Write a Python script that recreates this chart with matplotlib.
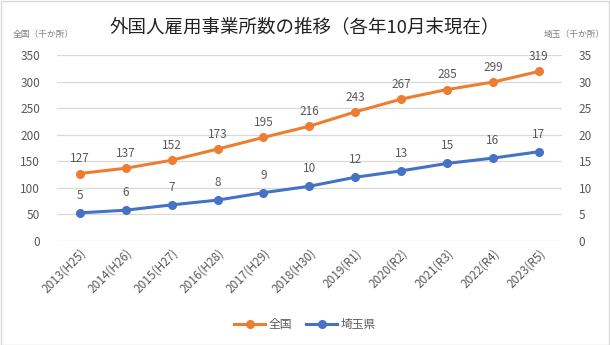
import matplotlib
matplotlib.use("Agg")
import matplotlib.pyplot as plt
from matplotlib.patches import Rectangle

plt.rcParams['font.family'] = ['Noto Sans CJK JP', 'DejaVu Sans']

years = ["2013(H25)", "2014(H26)", "2015(H27)", "2016(H28)", "2017(H29)", "2018(H30)",
         "2019(R1)", "2020(R2)", "2021(R3)", "2022(R4)", "2023(R5)"]
national = [127, 137, 152, 173, 195, 216, 243, 267, 285, 299, 319]
saitama = [5.3, 5.8, 6.8, 7.7, 9.1, 10.3, 12.0, 13.2, 14.6, 15.6, 16.8]
left_ticks = [0, 50, 100, 150, 200, 250, 300, 350]
right_ticks = [0, 5, 10, 15, 20, 25, 30, 35]

title = "外国人雇用事業所数の推移（各年10月末現在）"
left_label = "全国（千か所）"
right_label = "埼玉（千か所）"

orange = "#ED7D31"
blue = "#4472C4"
txt = "#595959"

fig = plt.figure(figsize=(6.1, 3.45), dpi=100)
fig.patches.append(Rectangle((0.001, 0.001), 0.998, 0.996, transform=fig.transFigure,
                             fill=False, edgecolor="#D9D9D9", linewidth=1))
ax = fig.add_axes([0.0934, 0.3014, 0.8276, 0.5392])
ax2 = ax.twinx()

x = list(range(len(years)))
ax.set_xlim(-0.5, len(years) - 0.5)
ax.set_ylim(0, 350)
ax2.set_ylim(0, 35)
ax.set_yticks(left_ticks)
ax2.set_yticks(right_ticks)
ax.grid(axis='y', color="#D9D9D9", linewidth=0.9)
ax.set_axisbelow(True)
for a in (ax, ax2):
    for s in a.spines.values():
        s.set_visible(False)
    a.tick_params(length=0, labelsize=8.5, colors=txt)
ax.tick_params(axis='y', pad=12)
ax2.tick_params(axis='y', pad=12)

ax.set_xticks(x)
ax.set_xticklabels(years, rotation=45, ha='right', rotation_mode='anchor', fontsize=8.5, color=txt)
ax.tick_params(axis='x', pad=4)

l1, = ax.plot(x, national, color=orange, lw=2.2, marker='o', ms=5.5, label="全国", zorder=3)
l2, = ax2.plot(x, saitama, color=blue, lw=2.2, marker='o', ms=5.5, label="埼玉県", zorder=3)

for xi, v in zip(x, national):
    ax.annotate(f"{v:.0f}", (xi, v), xytext=(0, 6), textcoords='offset points',
                ha='center', va='bottom', fontsize=8.5, color=txt)
for xi, v in zip(x, saitama):
    ax2.annotate(f"{v:.0f}", (xi, v), xytext=(0, 8), textcoords='offset points',
                 ha='center', va='bottom', fontsize=8.5, color=txt)

fig.text(0.5, 0.92, title, ha='center', va='center', fontsize=13.3, color="#222222")
fig.text(0.02, 0.9, left_label, ha='left', va='center', fontsize=6.3, color="#7f7f7f")
fig.text(0.992, 0.9, right_label, ha='right', va='center', fontsize=6.3, color="#7f7f7f")

fig.legend(handles=[l1, l2], loc='center', bbox_to_anchor=(0.5, 0.058), ncol=2,
           frameon=False, fontsize=8.5, labelcolor=txt, handlelength=2.6,
           columnspacing=1.2, handletextpad=0.3)

fig.savefig("out.png", dpi=100)
